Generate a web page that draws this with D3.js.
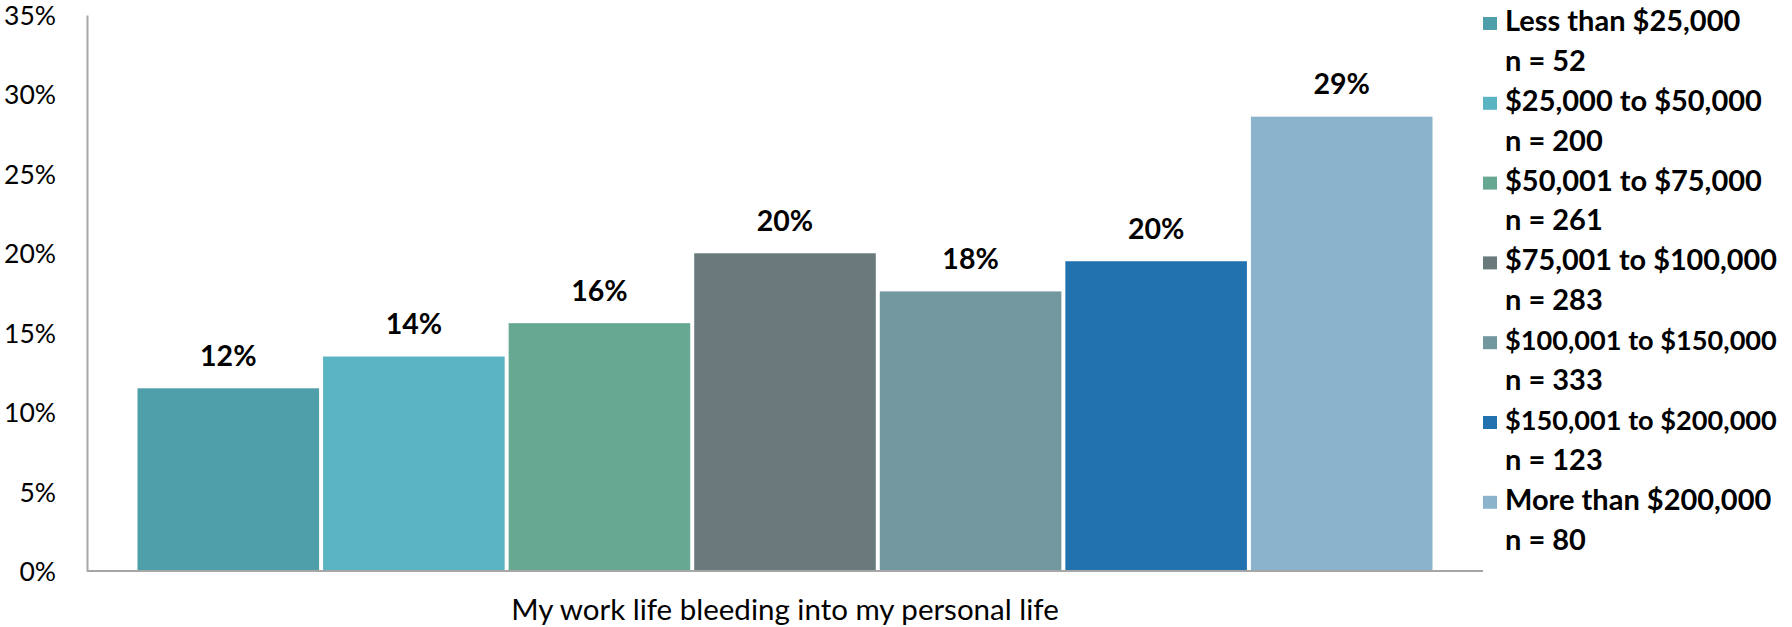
<!DOCTYPE html>
<html>
<head>
<meta charset="utf-8">
<script src="https://cdn.jsdelivr.net/npm/d3@7"></script>
<style>
  body { margin: 0; background: #fff; }
  text { font-family: Lato, "Open Sans", sans-serif; fill: #000; }
</style>
</head>
<body>
<div id="chart"></div>
<script>
// data
var category = "My work life bleeding into my personal life";
var series = ["Less than $25,000", "$25,000 to $50,000", "$50,001 to $75,000",
    "$75,001 to $100,000", "$100,001 to $150,000", "$150,001 to $200,000", "More than $200,000"];
var sampleSizes = [52, 200, 261, 283, 333, 123, 80];
var values = [11.5, 13.5, 15.6, 20.0, 17.6, 19.5, 28.6];
var colors = ["#4E9FAA", "#5AB4C1", "#67A893", "#6A7A7C", "#72979F", "#2272B0", "#8CB3CC"];
var yTicks = [0, 5, 10, 15, 20, 25, 30, 35];

var width = 1792, height = 627;
var plot = { left: 87, right: 1483, top: 15, bottom: 571 };

var svg = d3.select("#chart").append("svg")
    .attr("width", width)
    .attr("height", height);

var y = d3.scaleLinear()
    .domain([0, 35])
    .range([plot.bottom, plot.top]);

var xCat = d3.scaleBand()
    .domain([category])
    .range([plot.left, plot.right])
    .padding(0.036);

var xSeries = d3.scaleBand()
    .domain(series)
    .range([0, xCat.bandwidth()]);

// y axis
svg.append("g")
    .attr("transform", "translate(" + plot.left + ",0)")
    .call(d3.axisLeft(y)
        .tickValues(yTicks)
        .tickSize(0)
        .tickPadding(31)
        .tickFormat(function (d) { return d + "%"; }))
    .call(g => g.select(".domain").attr("stroke", "#a6a6a6").attr("stroke-width", 2))
    .call(g => g.selectAll(".tick text")
        .style("font-size", "26.5px")
        .style("font-family", "Lato, sans-serif")
        .attr("fill", "#000")
        .attr("dy", "0.36em"));

// bars
var bars = svg.append("g").attr("transform", "translate(" + xCat(category) + ",0)");

bars.selectAll("rect")
    .data(values)
    .enter()
    .append("rect")
    .attr("x", function (d, i) { return xSeries(series[i]) + 2; })
    .attr("width", xSeries.bandwidth() - 4)
    .attr("y", function (d) { return y(d); })
    .attr("height", function (d) { return y(0) - y(d) - 1; })
    .attr("fill", function (d, i) { return colors[i]; });

// data labels
bars.selectAll("text.label")
    .data(values)
    .enter()
    .append("text")
    .attr("class", "label")
    .attr("x", function (d, i) { return xSeries(series[i]) + xSeries.bandwidth() / 2; })
    .attr("y", function (d) { return y(d) - 22.5; })
    .attr("text-anchor", "middle")
    .style("font-size", "28.5px")
    .style("font-weight", "bold")
    .text(function (d) { return Math.round(d) + "%"; });

// x axis line
svg.append("line")
    .attr("x1", plot.left)
    .attr("x2", plot.right)
    .attr("y1", plot.bottom)
    .attr("y2", plot.bottom)
    .attr("stroke", "#a6a6a6")
    .attr("stroke-width", 2);

// category label, centred under the group
svg.append("text")
    .attr("x", xCat(category) + xCat.bandwidth() / 2)
    .attr("y", 620)
    .attr("text-anchor", "middle")
    .style("font-size", "29.5px")
    .text(category);

// legend
var lineGap = 39.9;
var legendFont = 29;
var maxLegendWidth = 272;
var legend = svg.append("g").attr("transform", "translate(1483,31)");
var item = legend.selectAll("g")
    .data(series)
    .enter()
    .append("g")
    .attr("transform", function (d, i) { return "translate(0," + (i * 2 * lineGap) + ")"; });

item.append("rect")
    .attr("x", 0)
    .attr("y", -14)
    .attr("width", 14)
    .attr("height", 13)
    .attr("fill", function (d, i) { return colors[i]; });

item.append("text")
    .attr("x", 22)
    .attr("y", 0)
    .style("font-size", legendFont + "px")
    .style("font-weight", "bold")
    .text(function (d) { return d; })
    .each(function () {
        // shrink the long money ranges a little so they stay on the page
        var w = this.getComputedTextLength();
        if (w > maxLegendWidth) {
            d3.select(this).style("font-size", (legendFont * maxLegendWidth / w) + "px");
        }
    });

item.append("text")
    .attr("x", 22)
    .attr("y", lineGap)
    .style("font-size", legendFont + "px")
    .style("font-weight", "bold")
    .text(function (d, i) { return "n = " + sampleSizes[i]; });
</script>
</body>
</html>
